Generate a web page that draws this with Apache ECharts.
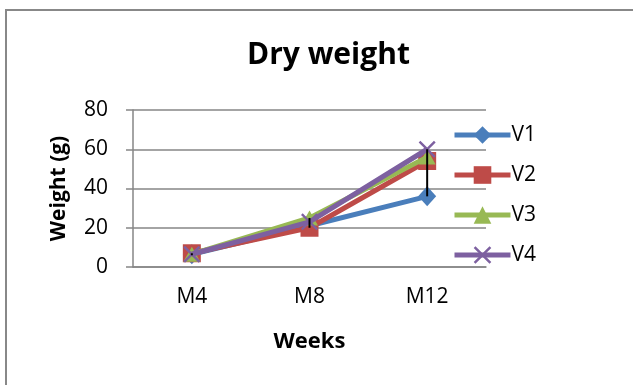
<!DOCTYPE html>
<html>
<head>
<meta charset="utf-8">
<script src="https://cdn.jsdelivr.net/npm/echarts@6/dist/echarts.min.js"></script>
<style>
  html, body { margin: 0; padding: 0; background: #fff; }
  #chart { width: 633px; height: 385px; }
</style>
</head>
<body>
<div id="chart"></div>
<script>
// Sampling weeks and dry weight (g) per variety
const weeks = ['M4', 'M8', 'M12'];
const v1 = [6.5, 21, 36];
const v2 = [7, 20, 54];
const v3 = [6.5, 25, 56];
const v4 = [6.5, 23, 60];
const yTicks = [0, 20, 40, 60, 80];

const seriesNames = ['V1', 'V2', 'V3', 'V4'];
const seriesData = [v1, v2, v3, v4];
const colors = ['#4A7EBB', '#BE4B48', '#98B954', '#7D60A0'];
const symbols = [
  'diamond',
  'rect',
  'triangle',
  'path://M0,1L1,0L5,4L9,0L10,1L6,5L10,9L9,10L5,6L1,10L0,9L4,5Z'
];
const symbolSizes = [[18, 20], 18, [17, 15], 17];

// High-low range per week (max and min across varieties)
const highLow = weeks.map((w, i) => {
  const vals = seriesData.map(s => s[i]);
  return [i, Math.min(...vals), Math.max(...vals)];
});

const font = '"Open Sans", sans-serif';
const chart = echarts.init(document.getElementById('chart'), null, { renderer: 'canvas' });

const lineSeries = seriesNames.map((name, k) => ({
  name,
  type: 'line',
  data: seriesData[k],
  symbol: symbols[k],
  symbolSize: symbolSizes[k],
  showAllSymbol: true,
  color: colors[k],
  lineStyle: { width: 5, color: colors[k] },
  itemStyle: { color: colors[k] },
  z: 2 + k
}));

chart.setOption({
  animation: false,
  backgroundColor: '#fff',
  title: {
    text: 'Dry weight',
    left: 242,
    top: 35,
    textStyle: { fontFamily: font, fontWeight: 'bold', fontSize: 30, color: '#000' }
  },
  graphic: [{
    type: 'rect',
    shape: { x: 6, y: 10, width: 700, height: 500 },
    style: { fill: 'none', stroke: '#888', lineWidth: 2 },
    silent: true
  }],
  legend: {
    orient: 'vertical',
    left: 447,
    top: 119,
    itemWidth: 56,
    itemHeight: 22,
    itemGap: 18,
    data: seriesNames,
    lineStyle: { width: 5 },
    textStyle: { fontFamily: font, fontSize: 21, color: '#000', lineHeight: 22, padding: [0, 0, 0, -4] }
  },
  grid: { left: 133, right: 147, top: 110, bottom: 118 },
  xAxis: {
    type: 'category',
    data: weeks,
    boundaryGap: true,
    axisLine: { lineStyle: { color: '#868686', width: 1.5 } },
    axisTick: { show: false },
    axisLabel: { fontFamily: font, fontSize: 21, color: '#000', margin: 20 },
    name: 'Weeks',
    nameLocation: 'middle',
    nameGap: 64,
    nameTextStyle: { fontFamily: font, fontWeight: 'bold', fontSize: 22, color: '#000' }
  },
  yAxis: {
    type: 'value',
    min: yTicks[0],
    max: yTicks[yTicks.length - 1],
    interval: 20,
    axisLine: { show: true, lineStyle: { color: '#868686', width: 1.5 } },
    axisTick: { show: true, length: 7, lineStyle: { color: '#868686', width: 1.5 } },
    splitLine: { lineStyle: { color: '#868686', width: 1.5 } },
    axisLabel: { fontFamily: font, fontSize: 21, color: '#000', margin: 25 },
    name: 'Weight (g)',
    nameLocation: 'middle',
    nameGap: 63,
    nameTextStyle: { fontFamily: font, fontWeight: 'bold', fontSize: 21, color: '#000' }
  },
  series: lineSeries.concat([{
    type: 'custom',
    name: 'range',
    data: highLow,
    z: 10,
    silent: true,
    renderItem: (params, api) => {
      const top = api.coord([api.value(0), api.value(2)]);
      const bottom = api.coord([api.value(0), api.value(1)]);
      return {
        type: 'line',
        shape: { x1: top[0], y1: top[1], x2: bottom[0], y2: Math.max(bottom[1], top[1] + 2) },
        style: { stroke: '#000', lineWidth: 2 }
      };
    }
  }])
});
</script>
</body>
</html>
